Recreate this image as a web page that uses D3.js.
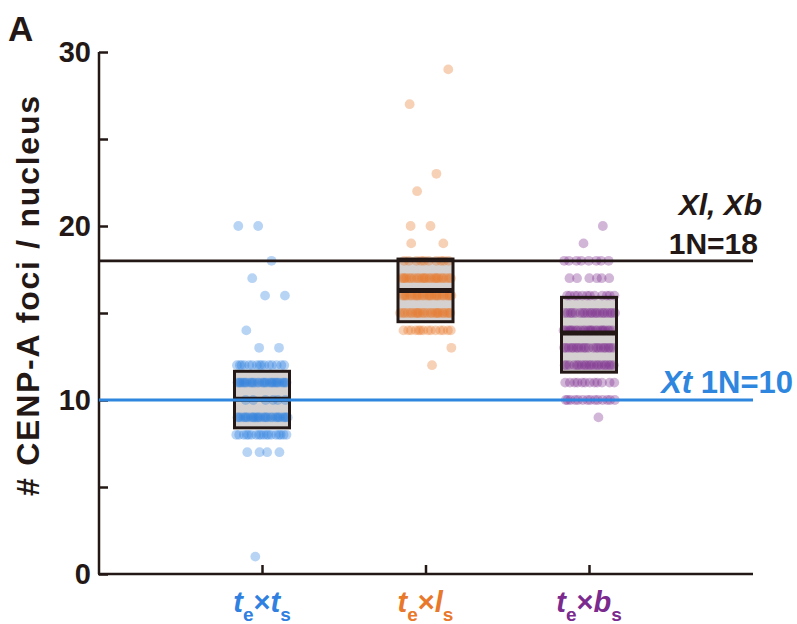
<!DOCTYPE html>
<html><head><meta charset="utf-8">
<script src="https://cdn.jsdelivr.net/npm/d3@7"></script>
<style>body{margin:0;background:#fff}svg{display:block}text{font-family:"Liberation Sans",Arial,sans-serif;font-weight:bold}</style>
</head><body>
<svg id="c" width="797" height="624"></svg>
<script>
// ---- data ----
const categories = ["te×ts", "te×ls", "te×bs"];
// [foci count, number of nuclei]
const tsCounts = [[20,2],[18,1],[17,1],[16,2],[14,1],[13,2],[12,15],[11,28],[10,6],[9,28],[8,18],[7,4],[1,1]];
const lsCounts = [[29,1],[27,1],[23,1],[22,1],[20,2],[19,2],[18,10],[17,24],[16,26],[15,24],[14,14],[13,1],[12,1]];
const bsCounts = [[20,1],[19,1],[18,8],[17,6],[16,12],[15,20],[14,24],[13,20],[12,20],[11,12],[10,14],[9,1]];
const boxLow  = [8.4, 14.5, 11.6];
const boxMid  = [10.05, 16.3, 13.85];
const boxHigh = [11.65, 18.1, 15.9];
const yTicks = [0, 5, 10, 15, 20, 25, 30];
const yTickLabels = ["0", "", "10", "", "20", "", "30"];
const refLines = [18, 10];

const colors = ["#2f80e0", "#e8782a", "#7b2a8e"];
const groups = [tsCounts, lsCounts, bsCounts];

const svg = d3.select("#c");
const y = d3.scaleLinear().domain([0, 30]).range([574, 52]);
const x = d3.scalePoint().domain(categories).range([262, 589]);
const dark = "#231815";

// axes
const yAxis = d3.axisRight(y).tickValues(yTicks).tickSize(9).tickFormat("");
const gy = svg.append("g").attr("transform", "translate(99,0)").call(yAxis);
gy.select(".domain").attr("d", `M0,${y(30)}V${y(0)}`);
gy.selectAll("path,line").attr("stroke", dark).attr("stroke-width", 2.5);
svg.append("g").selectAll("text").data(yTicks).join("text")
  .attr("x", 91).attr("y", d => y(d)).attr("dy", "0.36em")
  .attr("text-anchor", "end").attr("font-size", 29).attr("fill", dark)
  .text((d, i) => yTickLabels[i]);

const xAxis = d3.axisTop(x).tickSize(9).tickFormat("");
const gx = svg.append("g").attr("transform", `translate(0,${y(0)})`).call(xAxis);
gx.select(".domain").attr("d", "M98,0H753");
gx.selectAll("path,line").attr("stroke", dark).attr("stroke-width", 2.5);

// box fills
const bw = 55;
categories.forEach((c, i) => {
  svg.append("rect").attr("x", x(c) - bw / 2).attr("width", bw)
    .attr("y", y(boxHigh[i])).attr("height", y(boxLow[i]) - y(boxHigh[i]))
    .attr("fill", "#d4d1d0");
});

// dots (deterministic spread)
const spread = 52;
groups.forEach((g, gi) => {
  const pts = [];
  g.forEach(([v, n]) => {
    for (let k = 0; k < n; k++) {
      const f = ((k * 0.61803398875 + v * 0.3713 + gi * 0.17) % 1);
      pts.push({v, off: (f - 0.5) * spread});
    }
  });
  svg.append("g").selectAll("circle").data(pts).join("circle")
    .attr("cx", d => x(categories[gi]) + d.off).attr("cy", d => y(d.v))
    .attr("r", 4.9).attr("fill", colors[gi]).attr("fill-opacity", 0.34);
});

// box outlines + medians
categories.forEach((c, i) => {
  svg.append("rect").attr("x", x(c) - bw / 2).attr("width", bw)
    .attr("y", y(boxHigh[i])).attr("height", y(boxLow[i]) - y(boxHigh[i]))
    .attr("fill", "none").attr("stroke", dark).attr("stroke-width", 3);
  svg.append("line").attr("x1", x(c) - bw / 2).attr("x2", x(c) + bw / 2)
    .attr("y1", y(boxMid[i])).attr("y2", y(boxMid[i]))
    .attr("stroke", dark).attr("stroke-width", 5);
});

// reference lines
svg.append("line").attr("x1", 99).attr("x2", 753).attr("y1", y(refLines[0])).attr("y2", y(refLines[0]))
  .attr("stroke", dark).attr("stroke-width", 2.8);
svg.append("line").attr("x1", 99).attr("x2", 753).attr("y1", y(refLines[1])).attr("y2", y(refLines[1]))
  .attr("stroke", "#2e86de").attr("stroke-width", 2.8);

// annotations
svg.append("text").attr("x", 762).attr("y", 215).attr("text-anchor", "end")
  .attr("font-size", 30).attr("font-style", "italic").attr("fill", dark).text("Xl, Xb");
svg.append("text").attr("x", 758).attr("y", 254).attr("text-anchor", "end")
  .attr("font-size", 30).attr("fill", dark).text("1N=18");
const t10 = svg.append("text").attr("x", 793).attr("y", 393).attr("text-anchor", "end")
  .attr("font-size", 31).attr("fill", "#2e86de");
t10.append("tspan").attr("font-style", "italic").text("Xt");
t10.append("tspan").text(" 1N=10");

// panel letter
svg.append("text").attr("x", 8).attr("y", 41).attr("font-size", 35).attr("fill", dark).text("A");

// y label
svg.append("text").attr("transform", "translate(39,296) rotate(-90)")
  .attr("text-anchor", "middle").attr("font-size", 32).attr("fill", dark)
  .attr("textLength", 400).attr("lengthAdjust", "spacing")
  .text("# CENP-A foci / nucleus");

// x labels
const second = ["t", "l", "b"];
categories.forEach((c, i) => {
  const t = svg.append("text").attr("x", x(c)).attr("y", 612).attr("text-anchor", "middle")
    .attr("font-size", 29).attr("fill", colors[i]);
  t.append("tspan").attr("font-style", "italic").text("t");
  t.append("tspan").attr("font-size", 19).attr("dy", 9).text("e");
  t.append("tspan").attr("dy", -9).text("×");
  t.append("tspan").attr("font-style", "italic").text(second[i]);
  t.append("tspan").attr("font-size", 19).attr("dy", 9).text("s");
});
</script>
</body></html>
